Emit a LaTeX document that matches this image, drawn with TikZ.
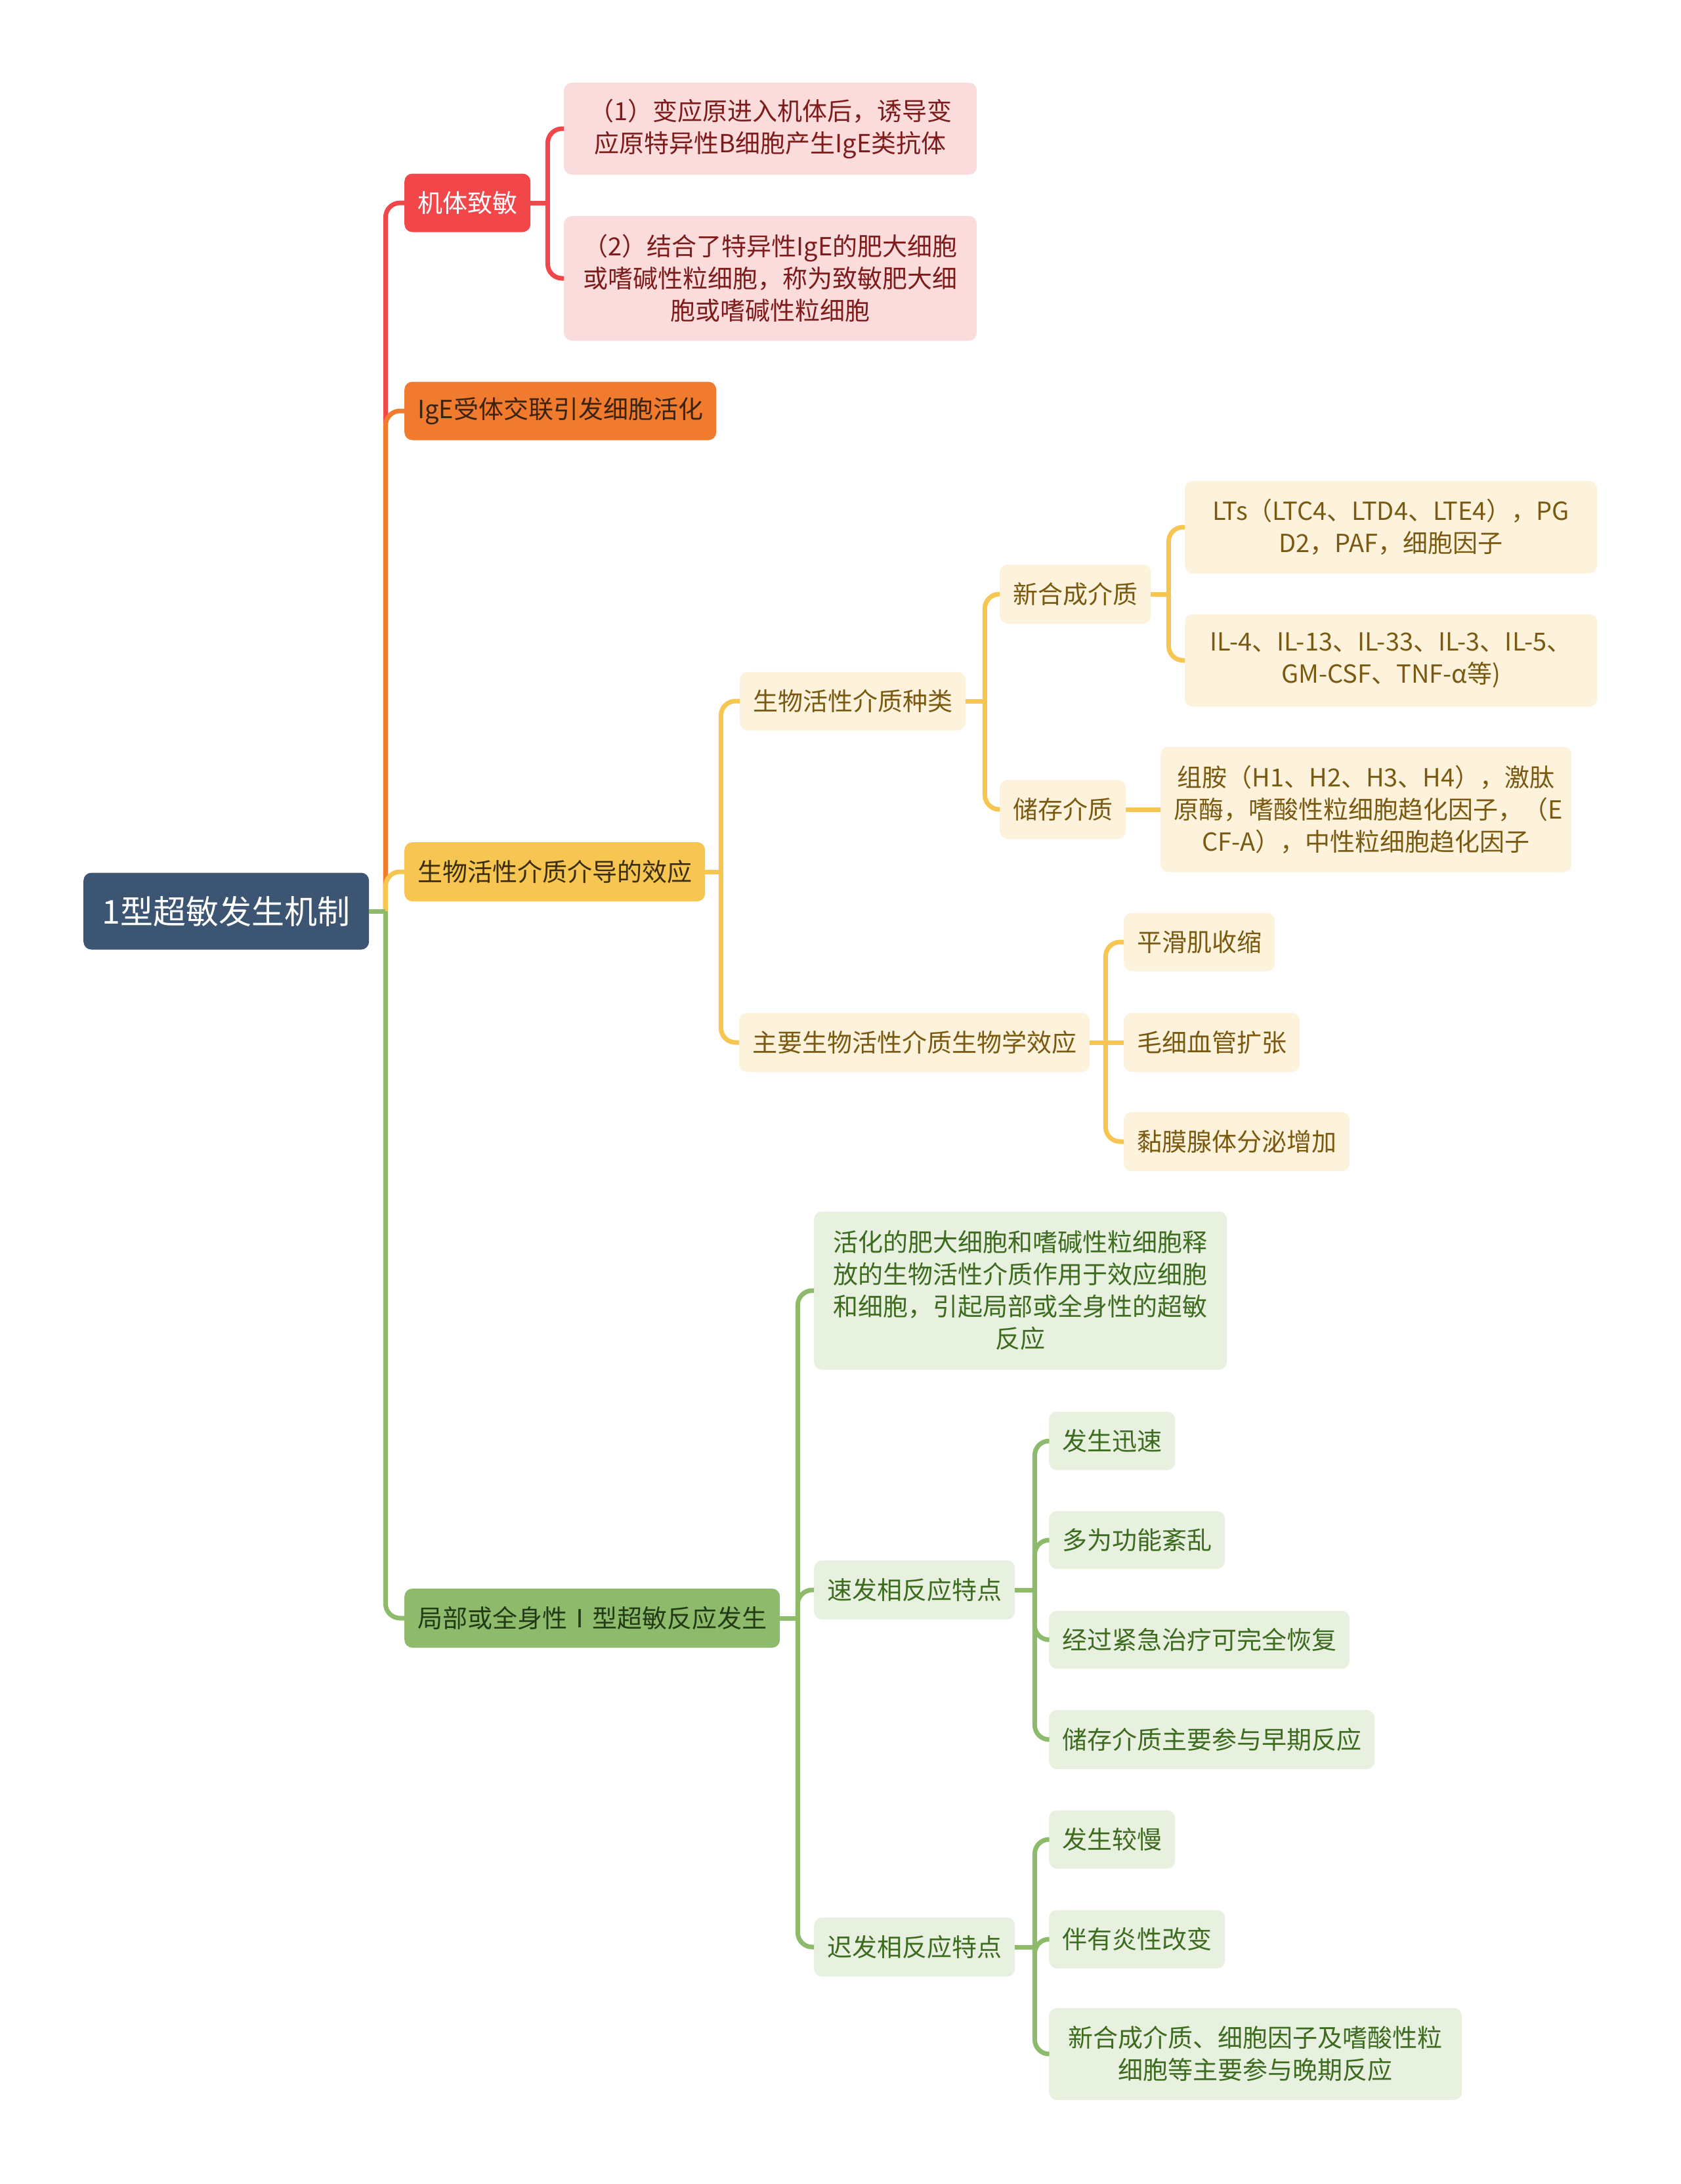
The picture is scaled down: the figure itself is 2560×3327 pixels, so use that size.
\documentclass[tikz,border=0pt]{standalone}
\usepackage{fontspec}
\setmainfont{Noto Sans CJK SC}
\usetikzlibrary{calc}
\definecolor{rootc}{HTML}{3B5573}
\definecolor{redc}{HTML}{F2474A}
\definecolor{redl}{HTML}{FBDCDD}
\definecolor{redt}{HTML}{7E1C1C}
\definecolor{orangec}{HTML}{F07A2E}
\definecolor{oranget}{HTML}{3A2410}
\definecolor{yellowc}{HTML}{F6C552}
\definecolor{yellowt}{HTML}{3B2E0E}
\definecolor{yellowl}{HTML}{FDF3DC}
\definecolor{yellowlt}{HTML}{7A5A12}
\definecolor{greenc}{HTML}{8DBB6B}
\definecolor{greent}{HTML}{233A17}
\definecolor{greenl}{HTML}{E8F0E0}
\definecolor{greenlt}{HTML}{3D6B1F}
\tikzset{
  box/.style={rounded corners=12pt, inner ysep=0pt, inner xsep=20pt, anchor=west, align=center, font=\fontsize{38}{49}\selectfont},
  rootbox/.style={box, fill=rootc, text=white, font=\fontsize{50}{60}\selectfont},
  redbox/.style={box, fill=redc, text=white},
  pinkbox/.style={box, fill=redl, text=redt},
  orangebox/.style={box, fill=orangec, text=oranget},
  yellowbox/.style={box, fill=yellowc, text=yellowt},
  creambox/.style={box, fill=yellowl, text=yellowlt},
  greenbox/.style={box, fill=greenc, text=greent},
  lgreenbox/.style={box, fill=greenl, text=greenlt},
  conn/.style={draw=#1, line width=7pt, rounded corners=22pt}
}
\begin{document}
\begin{tikzpicture}[x=1pt,y=-1pt]
\useasboundingbox (0,0) rectangle (2560,3327);

% level 0 and 1
\node[rootbox, minimum width=435pt, minimum height=117pt] (root) at (127,1388) {1型超敏发生机制};
\node[redbox, minimum width=190pt, minimum height=89pt] (n1) at (616,309) {机体致敏};
\node[orangebox, minimum width=473pt, minimum height=89pt] (n2) at (616,626) {IgE受体交联引发细胞活化};
\node[yellowbox, minimum width=456pt, minimum height=90pt] (n3) at (616,1328) {生物活性介质介导的效应};
\node[greenbox, minimum width=569pt, minimum height=90pt] (n4) at (616,2465) {局部或全身性Ⅰ型超敏反应发生};

% red subtree
\node[pinkbox, text width=589pt, minimum height=140pt] (a1) at (859,196) {（1）变应原进入机体后，诱导变\\应原特异性B细胞产生IgE类抗体};
\node[pinkbox, text width=589pt, minimum height=190pt] (a2) at (859,424) {（2）结合了特异性IgE的肥大细胞\\或嗜碱性粒细胞，称为致敏肥大细\\胞或嗜碱性粒细胞};

% yellow subtree
\node[creambox, minimum width=340pt, minimum height=89pt] (b1) at (1127,1068) {生物活性介质种类};
\node[creambox, minimum width=532pt, minimum height=90pt] (b2) at (1126,1588) {主要生物活性介质生物学效应};
\node[creambox, minimum width=226pt, minimum height=90pt] (c1) at (1523,905) {新合成介质};
\node[creambox, minimum width=189pt, minimum height=90pt] (c2) at (1523,1233) {储存介质};
\node[creambox, text width=588pt, minimum height=141pt] (d1) at (1805,803) {LTs（LTC4、LTD4、LTE4），PG\\D2，PAF，细胞因子};
\node[creambox, text width=588pt, minimum height=141pt] (d2) at (1805,1006) {IL-4、IL-13、IL-33、IL-3、IL-5、\\GM-CSF、TNF-α等)};
\node[creambox, text width=586pt, minimum height=191pt] (d3) at (1768,1233) {组胺（H1、H2、H3、H4），激肽\\原酶，嗜酸性粒细胞趋化因子，（E\\CF-A），中性粒细胞趋化因子};
\node[creambox, minimum width=228pt, minimum height=89pt] (e1) at (1712,1435) {平滑肌收缩};
\node[creambox, minimum width=266pt, minimum height=90pt] (e2) at (1712,1588) {毛细血管扩张};
\node[creambox, minimum width=342pt, minimum height=90pt] (e3) at (1712,1739) {黏膜腺体分泌增加};

% green subtree
\node[lgreenbox, text width=589pt, minimum height=241pt] (g1) at (1240,1966) {活化的肥大细胞和嗜碱性粒细胞释\\放的生物活性介质作用于效应细胞\\和细胞，引起局部或全身性的超敏\\反应};
\node[lgreenbox, minimum width=304pt, minimum height=90pt] (g2) at (1240,2422) {速发相反应特点};
\node[lgreenbox, minimum width=304pt, minimum height=90pt] (g3) at (1240,2966) {迟发相反应特点};
\node[lgreenbox, minimum width=190pt, minimum height=89pt] (h1) at (1598,2195) {发生迅速};
\node[lgreenbox, minimum width=266pt, minimum height=88pt] (h2) at (1598,2346) {多为功能紊乱};
\node[lgreenbox, minimum width=456pt, minimum height=88pt] (h3) at (1598,2498) {经过紧急治疗可完全恢复};
\node[lgreenbox, minimum width=493pt, minimum height=90pt] (h4) at (1598,2650) {储存介质主要参与早期反应};
\node[lgreenbox, minimum width=190pt, minimum height=89pt] (i1) at (1598,2802) {发生较慢};
\node[lgreenbox, minimum width=266pt, minimum height=89pt] (i2) at (1598,2954) {伴有炎性改变};
\node[lgreenbox, text width=589pt, minimum height=140pt] (i3) at (1598,3129) {新合成介质、细胞因子及嗜酸性粒\\细胞等主要参与晚期反应};

% junction coordinates
\coordinate (jr) at ([xshift=25pt]root.east);
\coordinate (j1) at ([xshift=26pt]n1.east);
\coordinate (j3) at ([xshift=24pt]n3.east);
\coordinate (jb1) at ([xshift=29pt]b1.east);
\coordinate (jc1) at ([xshift=27pt]c1.east);
\coordinate (jb2) at ([xshift=24pt]b2.east);
\coordinate (j4) at ([xshift=27pt]n4.east);
\coordinate (jg2) at ([xshift=30pt]g2.east);
\coordinate (jg3) at ([xshift=30pt]g3.east);

% main trunk
\draw[conn=redc] (jr) |- (n1.west);
\draw[conn=orangec] (jr) |- (n2.west);
\draw[conn=yellowc] (jr) |- (n3.west);
\draw[conn=greenc] (jr) |- (n4.west);
\draw[conn=greenc] (root.east) -- (jr);

% red
\draw[conn=redc] (n1.east) -- (j1);
\draw[conn=redc] (j1) |- (a1.west);
\draw[conn=redc] (j1) |- (a2.west);

% yellow
\draw[conn=yellowc] (n3.east) -- (j3);
\draw[conn=yellowc] (j3) |- (b1.west);
\draw[conn=yellowc] (j3) |- (b2.west);
\draw[conn=yellowc] (b1.east) -- (jb1);
\draw[conn=yellowc] (jb1) |- (c1.west);
\draw[conn=yellowc] (jb1) |- (c2.west);
\draw[conn=yellowc] (c1.east) -- (jc1);
\draw[conn=yellowc] (jc1) |- (d1.west);
\draw[conn=yellowc] (jc1) |- (d2.west);
\draw[conn=yellowc] (c2.east) -- (d3.west);
\draw[conn=yellowc] (b2.east) -- (jb2);
\draw[conn=yellowc] (jb2) |- (e1.west);
\draw[conn=yellowc] (jb2) -- (e2.west);
\draw[conn=yellowc] (jb2) |- (e3.west);

% green
\draw[conn=greenc] (n4.east) -- (j4);
\draw[conn=greenc] (j4) |- (g1.west);
\draw[conn=greenc] (j4) |- (g2.west);
\draw[conn=greenc] (j4) |- (g3.west);
\draw[conn=greenc] (g2.east) -- (jg2);
\draw[conn=greenc] (jg2) |- (h1.west);
\draw[conn=greenc] (jg2) |- (h2.west);
\draw[conn=greenc] (jg2) |- (h3.west);
\draw[conn=greenc] (jg2) |- (h4.west);
\draw[conn=greenc] (g3.east) -- (jg3);
\draw[conn=greenc] (jg3) |- (i1.west);
\draw[conn=greenc] (jg3) |- (i2.west);
\draw[conn=greenc] (jg3) |- (i3.west);
\end{tikzpicture}
\end{document}
